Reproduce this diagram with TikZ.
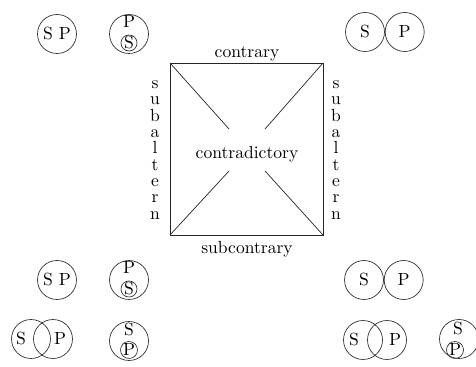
\documentclass[tikz,border=0pt]{standalone}
\usepackage{tikz}
\usetikzlibrary{positioning}
\begin{document}
\begin{tikzpicture}[
		x=0.02cm, y=-0.02cm,
		% cercles et lettres
		cercle/.style={draw=black!80, thin, circle, minimum size=0.78cm, inner sep=0pt},
		petit/.style={draw=black!80, thin, circle, minimum size=0.32cm, inner sep=0pt},
		lettre/.style={inner sep=0pt},
		colonne/.style={align=center, inner sep=0pt, font=\fontsize{10pt}{9.3pt}\selectfont},
		trait/.style={thin, black!85},
		]
		\useasboundingbox (0,0) rectangle (476,367);

		% le carre
		\coordinate (hg) at (170,63);
		\coordinate (hd) at (323,63);
		\coordinate (bd) at (323,235);
		\coordinate (bg) at (170,235);
		\coordinate (hgi) at (229,129);
		\coordinate (hdi) at (265,129);
		\coordinate (bgi) at (229,171);
		\coordinate (bdi) at (265,171);

		\draw[trait] (hg) -- (hd) -- (bd) -- (bg) -- cycle;
		\draw[trait] (hg) -- (hgi);
		\draw[trait] (hd) -- (hdi);
		\draw[trait] (bg) -- (bgi);
		\draw[trait] (bd) -- (bdi);

		\node (contraire) at (247,54) {contrary};
		\node (souscontraire) at (247,249) {subcontrary};
		\node (contradictoire) at (247,154) {contradictory};
		\node[colonne] (subG) at (155,150) {s\\u\\b\\a\\l\\t\\e\\r\\n};
		\node[colonne] (subD) at (336,150) {s\\u\\b\\a\\l\\t\\e\\r\\n};

		% ligne du haut
		\node[cercle] (SP1) at (57,34) {S P};
		\node[cercle] (PS1) at (129,34) {};
		\node[lettre] (P1) at (129,22) {P};
		\node[petit] (S1) at (129,43) {S};
		\node[cercle] (S2) at (365,32) {S};
		\node[cercle, right=0pt of S2] (P2) {P};

		% ligne du bas
		\node[cercle] (SP3) at (57,280) {S P};
		\node[cercle] (PS3) at (129,280) {};
		\node[lettre] (P3) at (129,268) {P};
		\node[petit] (S3) at (129,289) {S};
		\node[cercle] (S4) at (364,280) {S};
		\node[cercle, right=0pt of S4] (P4) {P};

		% derniere ligne
		\node[cercle] (C5a) at (31,339) {};
		\node[cercle] (C5b) at (53,339) {};
		\node[lettre] (S5) at (21,339) {S};
		\node[lettre] (P5) at (60,339) {P};

		\node[cercle] (SP6) at (129,341) {};
		\node[lettre] (S6) at (129,330) {S};
		\node[petit] (P6) at (129,350) {P};

		\node[cercle] (C7a) at (363,340) {};
		\node[cercle] (C7b) at (387,340) {};
		\node[lettre] (S7) at (354,340) {S};
		\node[lettre] (P7) at (395,340) {P};

		\node[cercle] (SP8) at (459,339) {};
		\node[lettre] (S8) at (458,329) {S};
		\node[petit] (P8) at (455,350) {P};
\end{tikzpicture}
\end{document}
